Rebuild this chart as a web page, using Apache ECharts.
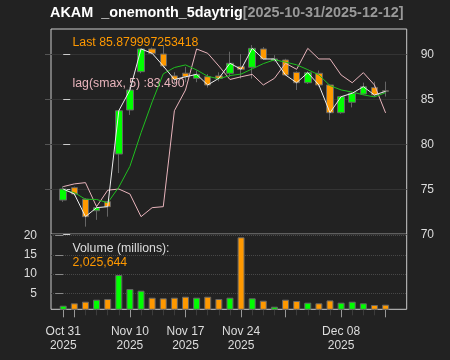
<!DOCTYPE html>
<html><head><meta charset="utf-8">
<script src="https://cdn.jsdelivr.net/npm/echarts@6/dist/echarts.min.js"></script>
<style>html,body{margin:0;padding:0;background:#222222;}#c{width:450px;height:360px;}</style>
</head><body><div id="c"></div>
<script>
// ---- data ----
const dates = ['2025-10-31','2025-11-03','2025-11-04','2025-11-05','2025-11-06','2025-11-07',
  '2025-11-10','2025-11-11','2025-11-12','2025-11-13','2025-11-14',
  '2025-11-17','2025-11-18','2025-11-19','2025-11-20','2025-11-21',
  '2025-11-24','2025-11-25','2025-11-26','2025-11-28',
  '2025-12-01','2025-12-02','2025-12-03','2025-12-04','2025-12-05',
  '2025-12-08','2025-12-09','2025-12-10','2025-12-11','2025-12-12'];
const opens  = [73.80,75.18,73.90,72.62,73.62,78.92,83.81,88.07,90.59,90.03,87.60,87.90,87.33,87.51,87.60,87.89,88.62,88.55,90.59,89.30,89.37,87.99,86.84,87.89,86.59,83.51,84.67,85.59,86.30,85.95];
const closes = [75.03,74.48,71.96,72.96,73.07,83.73,86.03,90.59,90.11,88.70,87.20,87.50,87.77,86.59,87.33,89.00,88.33,90.66,89.48,89.48,87.70,86.84,87.96,86.59,83.51,85.29,85.67,86.40,85.48,85.88];
const lows   = [73.60,74.30,70.85,71.60,71.96,76.80,83.26,87.90,90.00,88.50,86.60,86.90,86.90,86.30,87.00,87.50,87.30,87.30,89.40,89.20,87.60,86.03,86.70,86.40,82.70,83.40,84.10,85.50,85.30,85.30];
const highs  = [75.35,75.30,74.00,73.26,73.70,83.80,86.40,90.70,90.75,91.00,88.00,88.60,88.20,87.80,88.00,90.29,90.03,91.03,90.80,89.90,89.50,88.10,88.10,88.20,86.60,85.40,85.80,86.85,86.96,86.96];
const volumes = [1.77,2.39,2.81,3.33,3.50,9.76,6.12,5.67,3.85,3.69,3.85,4.11,3.85,4.11,3.51,3.85,19.58,3.69,3.07,1.51,3.33,2.99,2.55,2.39,3.15,2.55,2.81,2.39,1.95,2.03];
const smaLine = [74.87,74.64,73.89,73.87,73.50,75.24,77.55,81.28,84.71,87.83,88.53,88.82,88.26,87.55,87.28,87.64,87.80,88.38,88.96,89.39,89.13,88.83,88.29,87.71,86.52,86.04,85.80,85.49,85.27,85.74];
const lagLine = [75.30,75.60,75.74,73.07,74.90,75.03,74.48,71.96,72.96,73.07,83.73,86.03,90.59,90.11,88.70,87.20,87.50,87.77,86.59,87.33,89.00,88.33,90.66,89.48,89.48,87.70,86.84,87.96,86.59,83.49];
const majorTickIdx = [0,1,6,11,16,20,25,29];
const labelIdx = [0,6,11,16,25];
const labelText = ['Oct 31\n2025','Nov 10\n2025','Nov 17\n2025','Nov 24\n2025','Dec 08\n2025'];
const priceTicks = [70,75,80,85,90];
const volTicks = [5,10,15,20];
const titleMain = 'AKAM  _onemonth_5daytrig';
const titleRange = '[2025-10-31/2025-12-12]';
const lastText = 'Last 85.879997253418';
const lagText = 'lag(smax, 5) :83.490';
const volLabel = 'Volume (millions):';
const volText = '2,025,644';

// ---- styling ----
const UP = '#00ff00', DN = '#ff9900', BG = '#222222', FRAME = '#cccccc', TXT = '#dddddd';
const FONT = '"Liberation Sans", Arial, sans-serif';
const XMIN = -1.1, XMAX = 30.9;
const idx = dates.map((d, i) => i);

const chart = echarts.init(document.getElementById('c'), null, {renderer: 'canvas'});
chart.setOption({
  animation: false,
  backgroundColor: BG,
  textStyle: {fontFamily: FONT},
  grid: [
    {left: 51, right: 43.3, top: 29, height: 205.3, show: true, backgroundColor: BG, borderColor: FRAME, borderWidth: 1},
    {left: 51, right: 43.3, top: 234.3, height: 75, show: true, backgroundColor: BG, borderColor: FRAME, borderWidth: 1}
  ],
  xAxis: [
    {gridIndex: 0, type: 'value', min: XMIN, max: XMAX, position: 'bottom', offset: 75,
      axisLine: {show: false}, splitLine: {show: false}, axisLabel: {show: false},
      axisTick: {show: true, customValues: idx, length: 6, lineStyle: {color: '#3c3c3c'}}},
    {gridIndex: 1, type: 'value', min: XMIN, max: XMAX, position: 'bottom',
      axisLine: {show: false}, splitLine: {show: false},
      axisTick: {show: true, customValues: majorTickIdx, length: 8, lineStyle: {color: '#999999'}},
      axisLabel: {customValues: labelIdx, color: TXT, fontSize: 12, lineHeight: 14, margin: 15, fontFamily: FONT,
        formatter: v => { const k = labelIdx.indexOf(Math.round(v)); return k >= 0 ? labelText[k] : ''; }}}
  ],
  yAxis: [
    {gridIndex: 0, type: 'value', position: 'right', min: 70, max: 92.81,
      axisLine: {show: false},
      axisTick: {show: true, customValues: priceTicks, length: 7, lineStyle: {color: '#cccccc'}},
      axisLabel: {customValues: priceTicks, color: TXT, fontSize: 12, margin: 14, fontFamily: FONT},
      splitLine: {show: true, lineStyle: {color: '#343434'}}},
    {gridIndex: 1, type: 'value', position: 'left', min: 0.83, max: 20.36,
      axisLine: {show: false},
      axisTick: {show: true, customValues: volTicks, length: 8, lineStyle: {color: '#888888'}},
      axisLabel: {customValues: volTicks, color: TXT, fontSize: 12, margin: 14, fontFamily: FONT},
      splitLine: {show: true, lineStyle: {color: '#484848', type: 'dotted'}}},
    {gridIndex: 0, type: 'value', position: 'left', min: 70, max: 92.81,
      axisLine: {show: false}, splitLine: {show: false}, axisLabel: {show: false},
      axisTick: {show: true, customValues: priceTicks.slice(1), length: 6, lineStyle: {color: '#555555'}}}
  ],
  series: [
    {type: 'candlestick', xAxisIndex: 0, yAxisIndex: 0, barWidth: 7,
      dimensions: ['x', 'open', 'close', 'lowest', 'highest'],
      encode: {x: 'x', y: ['open', 'close', 'lowest', 'highest']},
      data: idx.map(i => [i, opens[i], closes[i], lows[i], highs[i]]),
      itemStyle: {color: UP, color0: DN, borderColor: '#666666', borderColor0: '#666666', borderColorDoji: '#666666', borderWidth: 1}},
    {type: 'line', xAxisIndex: 0, yAxisIndex: 0, symbol: 'none', data: idx.map(i => [i, lagLine[i]]),
      lineStyle: {color: '#e8b4bc', width: 1}},
    {type: 'line', xAxisIndex: 0, yAxisIndex: 0, symbol: 'none', data: idx.map(i => [i, smaLine[i]]),
      lineStyle: {color: '#1fbf1f', width: 1}},
    {type: 'line', xAxisIndex: 0, yAxisIndex: 0, symbol: 'none', data: idx.map(i => [i, closes[i]]),
      lineStyle: {color: '#eeeeee', width: 1}},
    {type: 'bar', xAxisIndex: 1, yAxisIndex: 1, barWidth: 7, clip: true,
      data: idx.map(i => ({value: [i, volumes[i]], itemStyle: {color: closes[i] >= opens[i] ? UP : DN}})),
      itemStyle: {borderColor: '#666666', borderWidth: 1}}
  ],
  graphic: [
    {type: 'text', left: 50, top: 6, style: {
      text: '{a|' + titleMain + '}{b|' + titleRange + '}',
      rich: {a: {fill: '#ffffff', fontWeight: 'bold', fontSize: 14.4, fontFamily: FONT},
             b: {fill: '#999999', fontWeight: 'bold', fontSize: 14.4, fontFamily: FONT}}}},
    {type: 'text', x: 72.5, y: 42.3, style: {text: lastText, fill: DN, fontSize: 12.3, fontFamily: FONT, verticalAlign: 'middle'}},
    {type: 'text', x: 72.5, y: 83.5, style: {text: lagText, fill: '#e8b4bc', fontSize: 12.3, fontFamily: FONT, verticalAlign: 'middle'}},
    {type: 'text', x: 72.5, y: 248.5, style: {text: volLabel, fill: TXT, fontSize: 12.3, fontFamily: FONT, verticalAlign: 'middle'}},
    {type: 'text', x: 72.5, y: 262.5, style: {text: volText, fill: DN, fontSize: 12.3, fontFamily: FONT, verticalAlign: 'middle'}}
  ]
});
</script>
</body></html>
